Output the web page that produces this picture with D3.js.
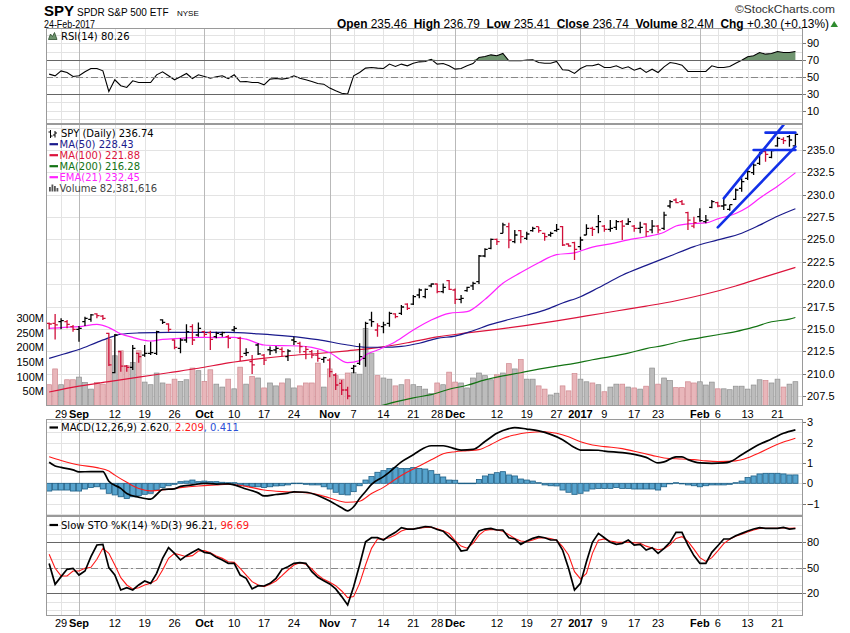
<!DOCTYPE html>
<html><head><meta charset="utf-8"><title>SPY</title>
<script src="https://cdn.jsdelivr.net/npm/d3@7/dist/d3.min.js"></script>
<style>html,body{margin:0;padding:0;background:#fff}svg{display:block}</style>
</head><body>
<svg id="chart" width="850" height="633"></svg>
<script>
// ---------------- DATA ----------------
const dates=["2016-08-25","2016-08-26","2016-08-29","2016-08-30","2016-08-31",
"2016-09-01","2016-09-02","2016-09-06","2016-09-07","2016-09-08","2016-09-09","2016-09-12","2016-09-13","2016-09-14","2016-09-15","2016-09-16","2016-09-19","2016-09-20","2016-09-21","2016-09-22","2016-09-23","2016-09-26","2016-09-27","2016-09-28","2016-09-29","2016-09-30",
"2016-10-03","2016-10-04","2016-10-05","2016-10-06","2016-10-07","2016-10-10","2016-10-11","2016-10-12","2016-10-13","2016-10-14","2016-10-17","2016-10-18","2016-10-19","2016-10-20","2016-10-21","2016-10-24","2016-10-25","2016-10-26","2016-10-27","2016-10-28","2016-10-31",
"2016-11-01","2016-11-02","2016-11-03","2016-11-04","2016-11-07","2016-11-08","2016-11-09","2016-11-10","2016-11-11","2016-11-14","2016-11-15","2016-11-16","2016-11-17","2016-11-18","2016-11-21","2016-11-22","2016-11-23","2016-11-25","2016-11-28","2016-11-29","2016-11-30",
"2016-12-01","2016-12-02","2016-12-05","2016-12-06","2016-12-07","2016-12-08","2016-12-09","2016-12-12","2016-12-13","2016-12-14","2016-12-15","2016-12-16","2016-12-19","2016-12-20","2016-12-21","2016-12-22","2016-12-23","2016-12-27","2016-12-28","2016-12-29","2016-12-30",
"2017-01-03","2017-01-04","2017-01-05","2017-01-06","2017-01-09","2017-01-10","2017-01-11","2017-01-12","2017-01-13","2017-01-17","2017-01-18","2017-01-19","2017-01-20","2017-01-23","2017-01-24","2017-01-25","2017-01-26","2017-01-27","2017-01-30","2017-01-31",
"2017-02-01","2017-02-02","2017-02-03","2017-02-06","2017-02-07","2017-02-08","2017-02-09","2017-02-10","2017-02-13","2017-02-14","2017-02-15","2017-02-16","2017-02-17","2017-02-21","2017-02-22","2017-02-23","2017-02-24"];

const open=[215.62,215.62,215.81,215.81,215.25,214.95,215.81,216.07,216.67,216.44,
214.51,210.11,212.46,210.85,210.70,212.27,212.08,212.27,212.27,216.00,
215.55,213.76,212.83,213.76,215.25,214.32,214.69,214.58,214.13,214.39,
214.13,214.88,213.95,212.27,211.34,213.20,212.08,212.67,212.64,212.72,
211.90,213.76,213.39,212.46,212.46,212.08,211.60,211.52,209.85,208.92,
208.17,210.59,211.15,211.71,216.00,214.88,215.25,215.62,216.67,216.74,
217.78,217.78,218.79,218.60,219.80,220.02,219.16,220.39,219.35,218.30,
219.27,219.80,220.28,223.15,224.01,225.01,225.68,226.43,224.75,225.98,
225.12,225.98,226.43,225.68,225.50,225.98,226.43,224.49,224.64,224.19,
225.50,226.24,226.43,226.50,226.13,226.35,226.99,226.73,226.50,226.24,
226.73,226.06,226.50,226.24,228.74,229.41,229.22,227.99,226.50,227.55,
226.99,228.59,229.11,228.74,228.37,229.49,230.71,231.83,232.47,233.51,
234.81,234.18,235.45,236.19,236.49,235.46];
const high=[215.73,216.67,216.18,216.00,215.44,215.33,216.37,216.67,216.74,216.56,
214.58,214.43,212.53,210.97,213.20,212.34,213.20,213.57,214.80,216.07,
215.62,213.83,213.95,215.51,215.51,215.73,214.80,214.80,214.69,214.69,
214.32,215.33,214.13,212.83,212.08,213.39,212.20,213.02,213.09,212.94,
212.72,214.13,213.57,213.09,212.64,212.64,211.90,211.71,210.03,209.29,
208.54,210.97,213.39,215.81,216.93,215.62,215.81,216.93,216.74,217.67,
217.86,218.79,219.53,219.53,220.09,220.09,220.09,220.47,219.53,218.79,
219.72,220.28,223.26,224.01,225.12,225.12,226.88,226.88,226.06,226.06,
225.87,226.43,226.43,225.76,225.87,226.73,226.50,224.57,224.75,225.31,
226.69,226.43,227.73,226.62,227.17,227.17,227.17,227.36,226.62,226.99,
226.80,227.17,226.62,228.11,229.41,229.60,229.41,228.11,227.55,228.48,
227.73,229.41,229.22,229.52,228.89,230.71,231.83,232.76,233.51,234.81,
235.07,235.00,236.49,236.42,236.68,236.79];
const low=[214.95,213.83,214.95,215.06,214.69,213.57,215.33,215.81,216.18,216.00,
210.85,210.03,210.22,210.22,210.41,211.23,211.90,212.08,212.08,215.55,
214.69,212.72,212.27,213.46,213.20,214.13,214.13,212.64,213.95,214.13,
212.83,214.69,211.41,211.97,209.96,212.08,210.97,212.08,212.27,211.90,
211.41,213.20,212.27,211.60,211.71,211.34,211.23,209.59,208.17,207.61,
207.13,210.03,210.97,210.78,215.25,214.13,214.51,215.25,216.18,216.56,
217.11,217.67,218.42,218.42,219.65,218.98,218.98,219.35,217.78,217.86,
219.16,219.35,220.02,223.00,223.90,224.38,225.68,224.01,224.57,224.57,
224.94,225.87,225.76,224.86,225.31,225.87,224.27,224.19,222.70,223.82,
225.50,225.39,225.68,225.87,225.87,226.06,224.94,226.62,225.87,225.68,
225.31,225.68,225.68,226.06,228.48,229.04,228.85,226.06,226.24,226.99,
226.80,228.48,228.59,228.29,228.22,229.41,230.34,231.65,232.20,233.32,
233.70,234.07,235.37,235.67,235.37,235.41];
const close=[215.55,215.44,215.92,215.51,214.95,215.06,216.18,216.56,216.48,216.18,
210.97,214.32,210.85,210.70,212.83,211.90,212.27,212.34,214.69,215.73,
214.95,212.94,213.76,214.69,213.76,215.06,214.39,213.83,214.51,214.58,
213.95,215.06,211.90,212.34,210.97,212.20,211.52,212.57,212.83,212.46,
212.53,213.57,213.02,212.72,212.08,211.71,211.79,210.22,208.73,208.17,
207.50,210.85,211.90,215.62,215.81,215.33,215.44,216.74,216.37,217.45,
217.30,218.60,219.35,219.42,220.02,219.16,219.65,219.42,218.30,218.42,
219.65,220.09,223.15,223.90,225.01,224.75,226.62,224.94,225.50,225.31,
225.61,226.24,225.98,225.31,225.68,226.13,224.38,224.27,223.90,224.94,
226.24,226.13,227.00,226.13,226.24,226.99,226.50,226.99,226.24,226.35,
225.87,226.50,226.06,227.73,229.22,229.11,228.96,227.17,226.88,227.10,
227.17,229.22,228.74,228.85,228.89,230.53,231.46,232.58,233.32,234.63,
234.52,234.92,236.30,236.04,236.12,236.74];
// volume in millions of shares
const volume=[72,126,72,89,89,98,80,57,80,74,
226,171,188,137,148,188,81,72,112,78,
74,91,83,89,129,120,83,123,74,64,
91,58,132,74,100,95,61,78,68,78,
92,61,68,78,78,146,64,126,103,91,
112,114,108,264,180,103,95,91,68,72,
89,72,66,57,42,78,72,115,81,78,
61,95,112,103,89,106,112,144,126,158,
91,91,68,57,37,43,68,51,110,91,
82,78,72,48,64,74,74,64,61,57,
67,129,74,95,86,62,62,82,78,82,
71,81,58,58,55,67,67,57,71,89,
86,78,91,64,74,82.38];

const rsi=[53.4,51.4,57.3,55.4,50.6,51.4,56.2,60.1,60.1,57.3,
32.8,46.7,39.6,37.6,45.5,43.5,43.5,43.5,52.6,56.2,
51.4,46.7,50.2,54.2,48.2,52.6,50.6,48.6,50.2,51.4,
48.2,52.6,44.3,44.7,43.5,43.5,40.7,47.5,48.2,47.5,
48.6,51.4,48.6,46.7,44.7,42.3,41.5,36.8,33.6,30.8,
29.8,51.4,55.4,60.5,61.3,60.5,60.1,65.3,62.5,65.3,
63.3,66.4,68.0,68.4,71.0,65.3,66.0,63.3,59.3,60.1,
63.3,66.0,73.2,74.4,76.3,75.2,77.9,69.2,69.2,69.2,
70.0,70.4,67.2,66.4,66.4,68.4,58.5,58.1,54.2,60.1,
63.3,63.3,65.3,61.3,61.3,63.3,60.1,62.1,58.1,60.5,
55.4,59.3,55.4,62.1,67.2,66.0,64.1,56.6,56.6,56.6,
56.6,63.3,61.3,61.3,62.5,66.4,70.0,74.0,75.2,79.1,
77.1,77.9,80.3,79.1,79.1,80.26];

const macdHist=[-0.38,-0.33,-0.33,-0.33,-0.38,-0.38,-0.28,-0.21,-0.17,-0.28,
-0.49,-0.57,-0.66,-0.74,-0.66,-0.61,-0.54,-0.49,-0.33,-0.21,
-0.12,-0.05,0.08,0.11,0.16,0.08,0.11,0.08,0.08,0.05,
0.03,0.03,-0.08,-0.13,-0.17,-0.17,-0.21,-0.17,-0.13,-0.12,
-0.08,0.01,0.01,-0.05,-0.08,-0.08,-0.17,-0.28,-0.44,-0.54,
-0.57,-0.41,-0.12,0.16,0.33,0.54,0.62,0.73,0.77,0.73,
0.73,0.77,0.73,0.70,0.62,0.44,0.31,0.16,0.15,0.01,
0.01,0.01,0.19,0.36,0.44,0.52,0.57,0.41,0.36,0.21,
0.16,0.11,0.03,-0.08,-0.12,-0.13,-0.33,-0.44,-0.54,-0.49,
-0.38,-0.28,-0.25,-0.25,-0.25,-0.21,-0.25,-0.25,-0.28,-0.28,
-0.28,-0.28,-0.33,-0.17,-0.03,0.03,0.0,-0.08,-0.12,-0.17,
-0.12,-0.08,-0.08,-0.08,-0.05,0.03,0.11,0.28,0.36,0.46,
0.49,0.49,0.49,0.46,0.41,0.411];

const stoK=[55,30.6,39.6,48.2,49.4,41.5,46.2,63.1,76.8,77.6,
50.2,41.5,23.9,26.6,23.9,29.8,34.5,31.7,43.5,61.1,
73.7,67,59.2,64.3,68.2,72.1,68.2,67,62.3,59.2,
55.3,55.3,41.5,37.6,25.1,29,28.6,31.7,37.6,48.2,
51.3,55.3,56,55.3,45.5,38.8,34.9,31,25.1,16.1,
6.3,27.8,53.3,80.7,85.4,85.4,82.7,87.8,91.7,97.2,
95.6,95.6,97.0,98.6,98.0,95.0,93.0,86.5,80.5,69.8,
70.9,82.7,93.3,95.6,96.4,94.5,94.5,85.4,83.9,77.6,
81.5,84.6,86.6,85.4,82.7,82.7,70.9,49.4,23.9,31.7,
57.2,80,90.5,85.4,80,77.6,78.8,82.7,76.8,77.6,
70.9,73.7,67,72.9,80,91.7,91.7,76.8,64.3,55.3,
55.3,68.2,76,83.9,83.9,87.8,90.5,93.3,95.6,97.2,
96.4,96.4,96.4,97.6,95.6,96.21];
const stoD=[66,49.4,40.4,40.4,46.2,46.2,49.4,50.6,60,72.9,
67,53.3,38.4,29.8,25.1,26.6,29.8,31.7,35.7,47.4,
61.1,67,65.1,63.1,64.3,69.8,70.2,67.8,63.9,61.1,
57.2,56.4,49.4,41.5,33.7,29.8,27.8,30.6,34.5,40.8,
47.4,53.3,56,54.1,48.6,41.5,36.4,32.9,29,22.7,
14.9,16.1,31.7,53.3,72.9,83.9,83.9,85.4,88.6,93.3,
95.6,95.6,96.7,97.5,97.6,96,93.5,90.3,82,75.5,
73,78.8,88.5,94,95.2,94.5,93,89,84.5,81.5,
80.7,82.7,85,85.4,84.5,82.3,75,65,45.5,37,
43.5,67,82.5,84,81.5,80.2,80.1,80,79.5,78.8,
75.5,73.2,71.2,72.5,77,84.5,86.6,81,72,61.9,
57.5,62,70,78.5,83.5,87.2,89.5,92.2,94.5,96.2,
96.4,96.4,96.6,97.2,96.5,96.69];

// moving averages at these dates
const ma50=[["2016-08-25",211.7],["2016-08-30",212.3],["2016-09-01",212.7],["2016-09-07",213.5],["2016-09-09",214.0],["2016-09-13",214.4],["2016-09-16",214.55],["2016-09-23",214.62],["2016-09-30",214.62],["2016-10-07",214.62],["2016-10-14",214.45],["2016-10-21",214.2],["2016-10-28",213.8],["2016-11-04",213.2],["2016-11-09",212.95],["2016-11-14",212.95],["2016-11-17",213.05],["2016-11-22",213.4],["2016-11-28",213.95],["2016-12-01",214.2],["2016-12-06",214.8],["2016-12-09",215.5],["2016-12-14",216.05],["2016-12-19",216.55],["2016-12-22",217.1],["2016-12-28",217.9],["2017-01-03",218.6],["2017-01-06",219.6],["2017-01-12",221.0],["2017-01-19",222.1],["2017-01-25",223.15],["2017-01-31",224.2],["2017-02-06",224.95],["2017-02-10",225.7],["2017-02-15",226.6],["2017-02-21",227.6],["2017-02-24",228.43]];
const ma100=[["2016-08-25",207.95],["2016-09-01",208.6],["2016-09-09",209.1],["2016-09-16",209.6],["2016-09-23",210.1],["2016-09-30",210.6],["2016-10-07",211.2],["2016-10-14",211.65],["2016-10-21",212.0],["2016-10-28",212.25],["2016-11-04",212.55],["2016-11-11",212.9],["2016-11-18",213.45],["2016-11-28",214.1],["2016-12-05",214.55],["2016-12-12",214.95],["2016-12-19",215.4],["2016-12-27",215.9],["2017-01-04",216.45],["2017-01-11",217.0],["2017-01-19",217.55],["2017-01-26",218.15],["2017-02-02",218.9],["2017-02-09",219.8],["2017-02-16",220.85],["2017-02-24",221.88]];
const ma200=[["2016-11-11",206.3],["2016-11-16",206.85],["2016-11-21",207.3],["2016-11-25",207.65],["2016-11-30",208.25],["2016-12-05",208.7],["2016-12-08",209.3],["2016-12-13",209.75],["2016-12-16",210.1],["2016-12-21",210.5],["2016-12-27",210.85],["2016-12-30",211.15],["2017-01-05",211.55],["2017-01-10",211.9],["2017-01-13",212.3],["2017-01-19",212.8],["2017-01-24",213.15],["2017-01-27",213.65],["2017-02-01",214.0],["2017-02-06",214.35],["2017-02-09",214.7],["2017-02-14",215.2],["2017-02-17",215.8],["2017-02-23",216.1],["2017-02-24",216.28]];
const ema21=[["2016-08-25",215.05],["2016-08-29",215.15],["2016-09-01",215.25],["2016-09-07",215.5],["2016-09-09",215.15],["2016-09-13",214.45],["2016-09-15",214.05],["2016-09-20",213.65],["2016-09-22",213.83],["2016-09-27",213.95],["2016-09-30",214.06],["2016-10-05",214.03],["2016-10-10",214.06],["2016-10-12",213.85],["2016-10-17",213.2],["2016-10-20",213.13],["2016-10-25",213.09],["2016-10-27",212.94],["2016-11-01",212.34],["2016-11-04",211.23],["2016-11-08",211.45],["2016-11-09",212.08],["2016-11-11",212.64],["2016-11-16",213.57],["2016-11-21",214.88],["2016-11-25",216.0],["2016-11-30",216.74],["2016-12-05",216.93],["2016-12-08",218.3],["2016-12-13",220.1],["2016-12-16",221.3],["2016-12-21",222.4],["2016-12-27",223.3],["2016-12-30",223.5],["2017-01-05",224.15],["2017-01-10",224.5],["2017-01-13",224.95],["2017-01-19",225.3],["2017-01-24",225.8],["2017-01-26",226.5],["2017-01-30",226.75],["2017-02-02",226.85],["2017-02-06",227.3],["2017-02-09",227.9],["2017-02-13",228.6],["2017-02-15",229.6],["2017-02-21",230.95],["2017-02-24",232.45]];

const macdLine=[["2016-08-25",1.03],["2016-08-26",0.85],["2016-08-29",0.78],["2016-08-31",0.66],["2016-09-01",0.56],["2016-09-06",0.57],["2016-09-08",0.57],["2016-09-09",0.1],["2016-09-13",-0.25],["2016-09-14",-0.5],["2016-09-16",-0.68],["2016-09-20",-0.78],["2016-09-21",-0.55],["2016-09-22",-0.3],["2016-09-26",-0.27],["2016-09-27",-0.15],["2016-09-29",-0.08],["2016-10-03",0.0],["2016-10-05",-0.04],["2016-10-07",-0.03],["2016-10-10",-0.08],["2016-10-12",-0.28],["2016-10-14",-0.47],["2016-10-17",-0.62],["2016-10-19",-0.55],["2016-10-21",-0.48],["2016-10-24",-0.42],["2016-10-26",-0.44],["2016-10-28",-0.6],["2016-11-01",-0.87],["2016-11-03",-1.2],["2016-11-04",-1.35],["2016-11-07",-1.15],["2016-11-08",-0.75],["2016-11-09",-0.4],["2016-11-10",-0.05],["2016-11-14",0.33],["2016-11-15",0.55],["2016-11-17",1.05],["2016-11-21",1.4],["2016-11-22",1.6],["2016-11-25",1.84],["2016-11-29",1.84],["2016-11-30",1.78],["2016-12-02",1.63],["2016-12-06",1.66],["2016-12-08",2.05],["2016-12-12",2.45],["2016-12-14",2.68],["2016-12-15",2.73],["2016-12-19",2.66],["2016-12-21",2.57],["2016-12-23",2.4],["2016-12-28",2.14],["2016-12-30",1.75],["2017-01-03",1.63],["2017-01-06",1.62],["2017-01-09",1.58],["2017-01-12",1.5],["2017-01-17",1.42],["2017-01-19",1.27],["2017-01-23",1.0],["2017-01-24",1.05],["2017-01-26",1.3],["2017-01-27",1.3],["2017-01-30",1.16],["2017-02-01",1.0],["2017-02-03",0.98],["2017-02-07",1.0],["2017-02-08",1.05],["2017-02-10",1.4],["2017-02-14",1.75],["2017-02-15",1.91],["2017-02-17",2.17],["2017-02-22",2.45],["2017-02-24",2.62]];
const macdSignal=[["2016-08-25",1.3],["2016-08-29",1.12],["2016-09-01",0.9],["2016-09-07",0.77],["2016-09-09",0.6],["2016-09-12",0.4],["2016-09-14",0.05],["2016-09-16",-0.25],["2016-09-20",-0.37],["2016-09-22",-0.33],["2016-09-27",-0.21],["2016-09-30",-0.13],["2016-10-05",-0.08],["2016-10-07",-0.05],["2016-10-12",-0.15],["2016-10-17",-0.33],["2016-10-20",-0.41],["2016-10-25",-0.44],["2016-10-27",-0.49],["2016-11-01",-0.72],["2016-11-04",-0.93],["2016-11-08",-0.88],["2016-11-10",-0.5],["2016-11-14",-0.2],["2016-11-16",0.2],["2016-11-18",0.55],["2016-11-22",0.85],["2016-11-25",1.15],["2016-11-29",1.45],["2016-12-01",1.55],["2016-12-05",1.6],["2016-12-07",1.65],["2016-12-09",1.9],["2016-12-13",2.2],["2016-12-15",2.37],["2016-12-19",2.48],["2016-12-22",2.53],["2016-12-27",2.45],["2016-12-29",2.28],["2017-01-03",2.04],["2017-01-05",1.88],["2017-01-09",1.8],["2017-01-12",1.7],["2017-01-17",1.57],["2017-01-20",1.37],["2017-01-24",1.24],["2017-01-27",1.19],["2017-01-31",1.16],["2017-02-02",1.1],["2017-02-06",1.07],["2017-02-09",1.1],["2017-02-13",1.25],["2017-02-15",1.5],["2017-02-17",1.78],["2017-02-22",2.02],["2017-02-24",2.209]];

// hand-drawn trend lines (date, price)
const trendLines=[[["2017-02-07",229.6],["2017-02-22",237.8]],[["2017-02-06",226.35],["2017-02-24",235.37]],[["2017-02-14",235.0],["2017-02-24",235.0]],[["2017-02-16",236.94],["2017-02-24",236.94]]];

// x-axis ticks: date, label, month-start flag
const xTicks=[["2016-08-29","29",0],["2016-09-01","Sep",1],["2016-09-12","12",0],["2016-09-19","19",0],["2016-09-26","26",0],["2016-10-03","Oct",1],["2016-10-10","10",0],["2016-10-17","17",0],["2016-10-24","24",0],["2016-11-01","Nov",1],["2016-11-07","7",0],["2016-11-14","14",0],["2016-11-21","21",0],["2016-11-28","28",0],["2016-12-01","Dec",1],["2016-12-12","12",0],["2016-12-19","19",0],["2016-12-27","27",0],["2017-01-03","2017",1],["2017-01-09","9",0],["2017-01-17","17",0],["2017-01-23","23",0],["2017-02-01","Feb",1],["2017-02-06","6",0],["2017-02-13","13",0],["2017-02-21","21",0]];
const priceTicks=[207.5,210,212.5,215,217.5,220,222.5,225,227.5,230,232.5,235];
const volTicks=[50,100,150,200,250,300];
const rsiTicks=[10,30,50,70,90];
const macdTicks=[-1,0,1,2,3];
const stoTicks=[20,50,80];

// ---------------- DRAWING ----------------
const svg=d3.select("#chart");
const L=46,R=803;
const P={rsi:[28,124],price:[124,406],macd:[419,516],sto:[516,616]};
const x=d3.scalePoint().domain(dates).range([49.15,795.4]);
const yRsi=d3.scaleLinear().domain([10,90]).range([110.7,43.3]);
const yPrice=d3.scaleLinear().domain([207.5,235]).range([396,150]);
const yVol=d3.scaleLinear().domain([0,300]).range([405.8,318]);
const yMacd=d3.scaleLinear().domain([-1,3]).range([503.7,422.1]);
const ySto=d3.scaleLinear().domain([20,80]).range([593.3,542.3]);
const AX="'Liberation Sans', Arial, sans-serif";
const LG="'DejaVu Sans', Verdana, sans-serif";

svg.append("rect").attr("width",850).attr("height",633).attr("fill","#fff");
const defs=svg.append("defs");
Object.entries(P).forEach(([k,[t,b]])=>{
  defs.append("clipPath").attr("id","clip-"+k).append("rect").attr("x",L).attr("y",t).attr("width",R-L).attr("height",b-t);
});
const px=v=>Math.round(v)+0.5;

function grid(key,vals,y){
  const [t,b]=P[key];
  const g=svg.append("g").attr("shape-rendering","crispEdges");
  vals.forEach(v=>{const yy=y(v); if(yy<=t+0.5||yy>=b-0.5) return;
    g.append("line").attr("x1",L).attr("x2",R).attr("y1",px(yy)).attr("y2",px(yy)).attr("stroke","#e3e3e3");});
  xTicks.forEach(([d,lab,maj])=>{const xx=px(x(d));
    g.append("line").attr("x1",xx).attr("x2",xx).attr("y1",t).attr("y2",b).attr("stroke",maj?"#b9b9b9":"#e3e3e3");});
}
grid("rsi",d3.range(0,101,10),yRsi);
grid("price",d3.range(207.5,238,2.5),yPrice);
grid("macd",d3.range(-1.5,3.01,0.5),yMacd);
grid("sto",d3.range(0,101,10),ySto);

function refLine(y,v,dash,color){
  svg.append("line").attr("x1",L).attr("x2",R).attr("y1",px(y(v))).attr("y2",px(y(v)))
   .attr("stroke",color).attr("stroke-dasharray",dash).attr("shape-rendering","crispEdges");
}

// ---- RSI ----
const gR=svg.append("g").attr("clip-path","url(#clip-rsi)");
gR.append("path").datum(rsi).attr("fill","#6f946f").attr("stroke","none")
  .attr("d",d3.area().x((v,i)=>x(dates[i])).y0(yRsi(70)).y1(v=>yRsi(Math.max(v,70))));
refLine(yRsi,70,null,"#666");refLine(yRsi,30,null,"#666");refLine(yRsi,50,"7,3,2,3","#888");
gR.append("path").datum(rsi).attr("fill","none").attr("stroke","#000").attr("stroke-width",1.1)
  .attr("d",d3.line().x((v,i)=>x(dates[i])).y(v=>yRsi(v)));

// ---- Price panel ----
const up=i=>i>0?close[i]>=close[i-1]:false;
const gV=svg.append("g").attr("clip-path","url(#clip-price)");
volume.forEach((v,i)=>{
  gV.append("rect").attr("x",x(dates[i])-2.4).attr("width",4.8).attr("y",yVol(v)).attr("height",yVol(0)-yVol(v))
    .attr("fill",up(i)?"#bcbcbc":"#e8b6ba").attr("stroke",up(i)?"#8e8e8e":"#cf878e").attr("stroke-width",0.7);
});
const gM=svg.append("g").attr("clip-path","url(#clip-price)").attr("fill","none");
const maLine=d3.line().x(p=>x(p[0])).y(p=>yPrice(p[1])).curve(d3.curveMonotoneX);
[[ma200,"#137313"],[ma100,"#dc143c"],[ma50,"#1a1a8c"],[ema21,"#ff22ff"]].forEach(([s,c])=>{
  gM.append("path").datum(s).attr("stroke",c).attr("stroke-width",1.2).attr("d",maLine);
});
const gB=svg.append("g").attr("clip-path","url(#clip-price)").attr("fill","none");
dates.forEach((d,i)=>{
  const xx=x(d);
  gB.append("path").attr("stroke",up(i)?"#000":"#d0103a").attr("stroke-width",1.3)
   .attr("d",`M${xx},${yPrice(high[i])}V${yPrice(low[i])}M${xx-2.7},${yPrice(open[i])}H${xx}M${xx},${yPrice(close[i])}H${xx+2.7}`);
});
const gT=svg.append("g").attr("fill","none");
trendLines.forEach(seg=>{
  gT.append("path").datum(seg).attr("stroke","#1230e8").attr("stroke-width",2.6).attr("stroke-linecap","round")
    .attr("d",d3.line().x(p=>x(p[0])).y(p=>yPrice(p[1])));
});

// ---- MACD ----
const gH=svg.append("g").attr("clip-path","url(#clip-macd)");
macdHist.forEach((v,i)=>{
  const y0=yMacd(0),y1=yMacd(v);
  gH.append("rect").attr("x",x(dates[i])-2.6).attr("width",5.2).attr("y",Math.min(y0,y1)).attr("height",Math.max(0.6,Math.abs(y1-y0)))
    .attr("fill","#57a3cd").attr("stroke","#1d5f86").attr("stroke-width",0.8);
});
const ml=d3.line().x(p=>x(p[0])).y(p=>yMacd(p[1])).curve(d3.curveMonotoneX);
gH.append("path").datum(macdSignal).attr("fill","none").attr("stroke","#ff1a1a").attr("stroke-width",1.1).attr("d",ml);
gH.append("path").datum(macdLine).attr("fill","none").attr("stroke","#000").attr("stroke-width",1.7).attr("d",ml);

// ---- Slow STO ----
refLine(ySto,80,null,"#666");refLine(ySto,20,null,"#666");refLine(ySto,50,"7,3,2,3","#888");
const gS=svg.append("g").attr("clip-path","url(#clip-sto)").attr("fill","none");
gS.append("path").datum(stoD).attr("stroke","#ff1a1a").attr("stroke-width",1.1).attr("d",d3.line().x((v,i)=>x(dates[i])).y(v=>ySto(v)));
gS.append("path").datum(stoK).attr("stroke","#000").attr("stroke-width",1.7).attr("d",d3.line().x((v,i)=>x(dates[i])).y(v=>ySto(v)));

// ---- borders ----
Object.values(P).forEach(([t,b])=>{
  svg.append("rect").attr("x",L+0.5).attr("y",t+0.5).attr("width",R-L-1).attr("height",b-t-1)
    .attr("fill","none").attr("stroke","#9a9a9a").attr("shape-rendering","crispEdges");
});

// ---- axes labels ----
function rightLabels(vals,y,fmt){
  vals.forEach(v=>{const yy=y(v);
    svg.append("line").attr("x1",R).attr("x2",R+3).attr("y1",px(yy)).attr("y2",px(yy)).attr("stroke","#777").attr("shape-rendering","crispEdges");
    svg.append("text").attr("x",807).attr("y",yy+4).attr("font-family",AX).attr("font-size",11).attr("fill","#000").text(fmt(v));});
}
rightLabels(rsiTicks,yRsi,d3.format("d"));
rightLabels(priceTicks,yPrice,d3.format(".1f"));
rightLabels(macdTicks,yMacd,d3.format("d"));
rightLabels(stoTicks,ySto,d3.format("d"));
volTicks.forEach(v=>{
  svg.append("text").attr("x",44).attr("y",yVol(v)+4).attr("text-anchor","end").attr("font-family",AX).attr("font-size",11).text(v+"M");
});
function xLabels(baseY){
  xTicks.forEach(([d,lab,maj])=>{
    svg.append("text").attr("x",x(d)).attr("y",baseY).attr("text-anchor","middle").attr("font-family",AX)
      .attr("font-size",11).attr("font-weight",maj?"bold":"normal").text(lab);
  });
}
xLabels(417.5);xLabels(627);

// ---- legends ----
const lg=svg.append("g").attr("font-family",LG).attr("font-size",10);
function mark(yy,c){lg.append("line").attr("x1",49.5).attr("x2",58).attr("y1",yy).attr("y2",yy).attr("stroke",c).attr("stroke-width",2.2);}
// RSI
lg.append("path").attr("d","M48.5,39.5 L50.5,34 L52.5,36.5 L54.5,32.5 L57,39.5 Z").attr("fill","#6f946f").attr("stroke","#2f4f2f").attr("stroke-width",0.8);
lg.append("text").attr("x",61).attr("y",39.5).text("RSI(14) 80.26");
// price
lg.append("path").attr("d","M50.5,130V138M48.5,132H50.5M50.5,136H52.5M55,131V137.5M53,135H55M55,133H57").attr("stroke","#000").attr("stroke-width",1).attr("fill","none");
lg.append("text").attr("x",61).attr("y",137).text("SPY (Daily) 236.74");
mark(144.2,"#1a1a8c");lg.append("text").attr("x",59.5).attr("y",147.8).attr("fill","#1a1a8c").text("MA(50) 228.43");
mark(155.2,"#dc143c");lg.append("text").attr("x",59.5).attr("y",158.8).attr("fill","#dc143c").text("MA(100) 221.88");
mark(166.2,"#137313");lg.append("text").attr("x",59.5).attr("y",169.8).attr("fill","#137313").text("MA(200) 216.28");
mark(177.2,"#ff22ff");lg.append("text").attr("x",59.5).attr("y",180.8).attr("fill","#ff22ff").text("EMA(21) 232.45");
[[49,4.5],[51.5,7],[54,5.5],[56.5,3.5]].forEach(([bx,bh])=>lg.append("rect").attr("x",bx).attr("y",191.5-bh).attr("width",1.8).attr("height",bh).attr("fill","#555"));
lg.append("text").attr("x",59.5).attr("y",191.5).attr("fill","#444").text("Volume 82,381,616");
// MACD
mark(427.5,"#000");
const mt=lg.append("text").attr("x",61).attr("y",431);
mt.append("tspan").text("MACD(12,26,9) 2.620");
mt.append("tspan").attr("fill","#ff1a1a").text(", 2.209");
mt.append("tspan").attr("fill","#2a4fd6").text(", 0.411");
// STO
mark(525,"#000");
const st=lg.append("text").attr("x",61).attr("y",528.5);
st.append("tspan").text("Slow STO %K(14) %D(3) 96.21, ");
st.append("tspan").attr("fill","#ff1a1a").text("96.69");

// ---- header ----
const hd=svg.append("g").attr("font-family",AX);
hd.append("text").attr("x",44).attr("y",16).attr("font-size",15).attr("font-weight","bold").text("SPY");
hd.append("text").attr("x",77).attr("y",16).attr("font-size",10).text("SPDR S&P 500 ETF");
hd.append("text").attr("x",177).attr("y",16).attr("font-size",8).text("NYSE");
hd.append("text").attr("x",44).attr("y",28).attr("font-size",11).attr("textLength",51).attr("lengthAdjust","spacingAndGlyphs").text("24-Feb-2017");
hd.append("text").attr("x",735).attr("y",13).attr("font-size",11).attr("fill","#333").attr("textLength",100).attr("lengthAdjust","spacingAndGlyphs").text("©StockCharts.com");
const t2=hd.append("text").attr("x",337).attr("y",28).attr("font-size",12)
  .attr("textLength",492).attr("lengthAdjust","spacingAndGlyphs");
[["Open"," 235.46  "],["High"," 236.79  "],["Low"," 235.41  "],["Close"," 236.74  "],["Volume"," 82.4M  "],["Chg"," +0.30 (+0.13%)"]].forEach(([a,b])=>{
  t2.append("tspan").attr("font-weight","bold").text(a);
  t2.append("tspan").attr("xml:space","preserve").text(b);
});
hd.append("path").attr("d","M830.5,27 L838,27 L834.2,21 Z").attr("fill","#2e8b2e");
</script></body></html>
